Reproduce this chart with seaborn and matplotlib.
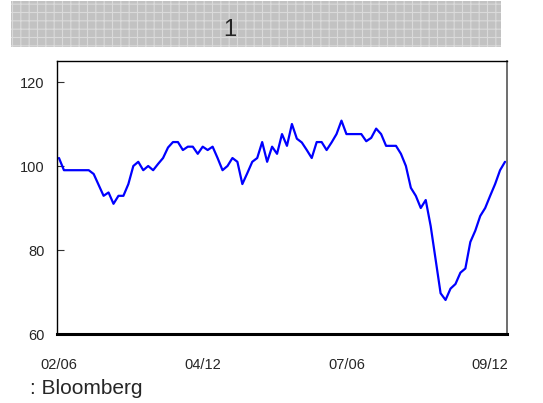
import numpy as np
import pandas as pd
import matplotlib
matplotlib.use('Agg')
import matplotlib.pyplot as plt
import seaborn as sns
from matplotlib.patches import Rectangle

# monthly index values, 2002/06 - 2009/12
values = [
    101.9, 99.0, 99.0, 99.0, 99.0, 99.0, 99.0, 98.1, 95.5, 92.9,
    93.7, 91.0, 92.9, 92.9, 95.7, 100.0, 101.0, 99.0, 100.0, 99.0,
    100.5, 101.9, 104.4, 105.7, 105.7, 103.8, 104.6, 104.6, 102.9, 104.6,
    103.8, 104.6, 101.9, 99.0, 100.0, 101.9, 101.0, 95.7, 98.3, 101.0,
    101.9, 105.7, 101.0, 104.6, 102.9, 107.6, 104.8, 110.0, 106.5, 105.6,
    103.8, 101.9, 105.7, 105.7, 103.8, 105.6, 107.6, 110.8, 107.6, 107.6,
    107.6, 107.6, 105.9, 106.7, 108.9, 107.6, 104.8, 104.8, 104.8, 102.9,
    100.0, 94.8, 92.9, 90.0, 91.9, 85.7, 77.7, 69.7, 68.1, 70.8,
    71.9, 74.6, 75.6, 81.9, 84.6, 88.1, 90.0, 92.9, 95.7, 99.0,
    101.0,
]
tick_labels = ['02/06', '04/12', '07/06', '09/12']
tick_pos = [0, 29, 58, 87]
y_ticks = [60, 80, 100, 120]

df = pd.DataFrame({'t': np.arange(len(values)), 'v': values})

sns.set_style('white')
plt.rcParams['font.family'] = ['Liberation Sans', 'DejaVu Sans']
plt.rcParams['hatch.linewidth'] = 0.8

fig = plt.figure(figsize=(5.43, 4.03), dpi=100)
ax = fig.add_axes([57 / 543, 1 - 334 / 403, 450 / 543, 273 / 403])

sns.lineplot(data=df, x='t', y='v', ax=ax, color='#0000ff', linewidth=1.6)

ax.set_xlim(-0.4, 90.4)
ax.set_ylim(60, 125)
ax.set_yticks(y_ticks)
ax.set_xticks(tick_pos)
ax.set_xticklabels(tick_labels)
ax.tick_params(axis='y', direction='in', length=5, width=0.8, color='#333333',
               labelsize=10.5, pad=9, left=True)
ax.tick_params(axis='x', length=0, labelsize=10.5, pad=17)
ax.set_xlabel('')
ax.set_ylabel('')

for s in ['left', 'top']:
    ax.spines[s].set_color('black')
    ax.spines[s].set_linewidth(1.0)
ax.spines['bottom'].set_color('black')
ax.spines['bottom'].set_linewidth(2.2)
ax.spines['right'].set_color('#555555')
ax.spines['right'].set_linewidth(1.2)

# title banner
fig.patches.append(Rectangle((11 / 543, 1 - 47 / 403), 490 / 543, 46 / 403,
                             transform=fig.transFigure, facecolor='#c2c2c2',
                             edgecolor='#dadada', hatch='++', linewidth=0))
fig.text(230 / 543, 1 - 30 / 403, '1', fontsize=17, ha='center', va='center')

fig.text(30 / 543, 1 - 388 / 403, ': Bloomberg', fontsize=15, ha='left', va='center')

fig.savefig('out.png', dpi=100)
